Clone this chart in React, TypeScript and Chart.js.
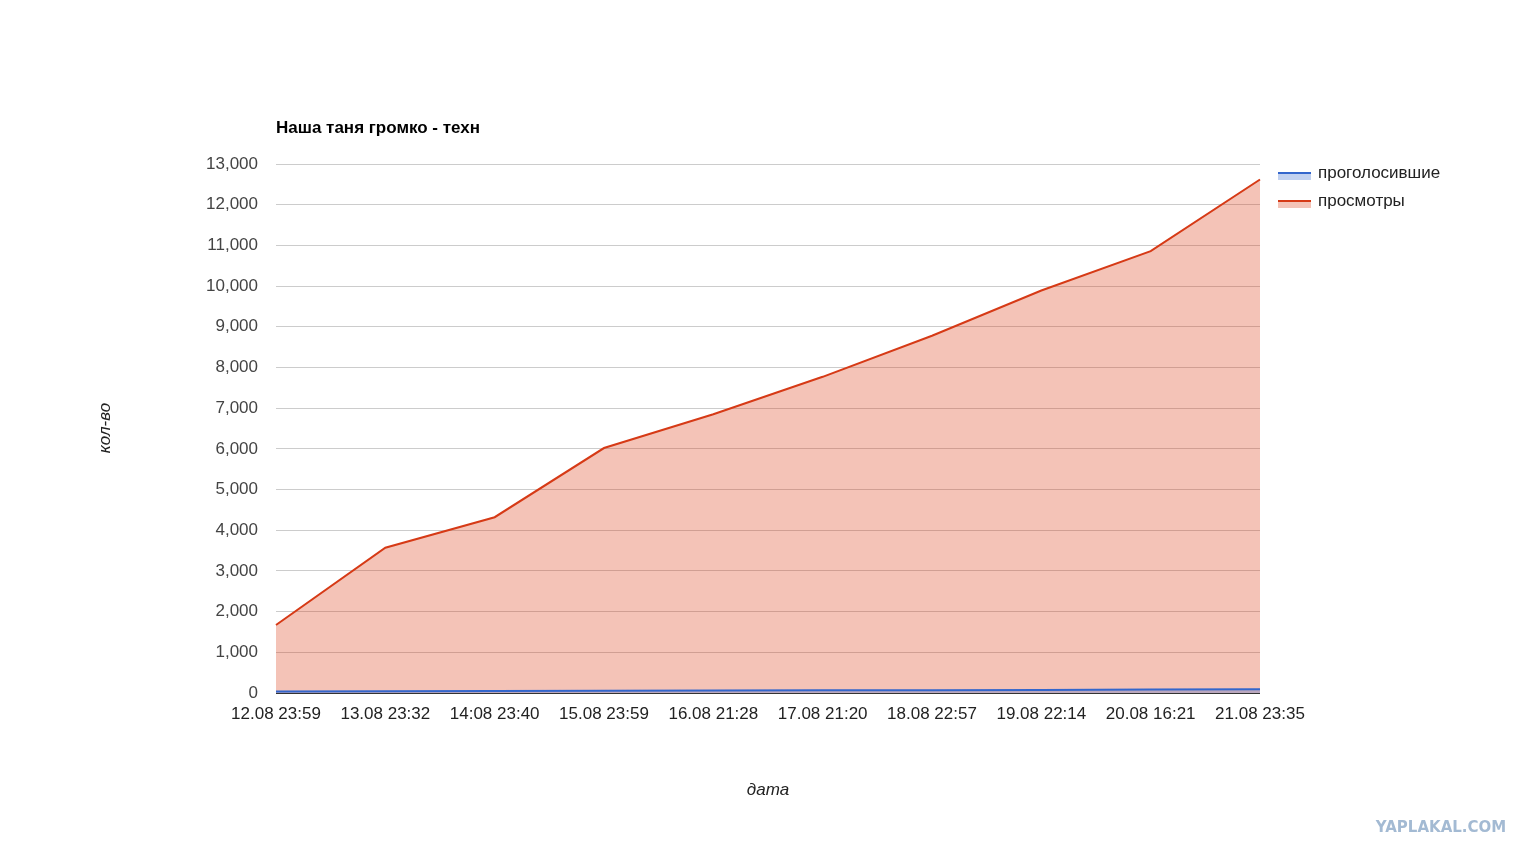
import React, { useEffect, useRef } from "react";
import { Chart, registerables } from "chart.js";

Chart.register(...registerables);

const categories = [
  "12.08 23:59",
  "13.08 23:32",
  "14:08 23:40",
  "15.08 23:59",
  "16.08 21:28",
  "17.08 21:20",
  "18.08 22:57",
  "19.08 22:14",
  "20.08 16:21",
  "21.08 23:35",
];
const voters = [35, 45, 50, 55, 60, 65, 70, 75, 85, 95];
const views = [1670, 3570, 4320, 6020, 6850, 7770, 8780, 9890, 10860, 12620];
const seriesNames = ["проголосившие", "просмотры"];
const chartTitle = "Наша таня громко - техн";
const yTitle = "кол-во";
const xTitle = "дата";
const watermark = "YAPLAKAL.COM";

const FONT = "Arial, 'Liberation Sans', sans-serif";
const BLUE = "#3366cc";
const RED = "#d63a16";
const BLUE_FILL = "rgba(51,102,204,0.3)";
const RED_FILL = "rgba(220,57,18,0.3)";

const overlayPlugin = {
  id: "overlay",
  afterDraw(chart: any) {
    const ctx = chart.ctx as CanvasRenderingContext2D;
    const area = chart.chartArea;
    ctx.save();
    // title
    ctx.fillStyle = "#000";
    ctx.font = `bold 17px ${FONT}`;
    ctx.textAlign = "left";
    ctx.textBaseline = "middle";
    ctx.fillText(chartTitle, area.left, 128);
    // axis titles
    ctx.fillStyle = "#222";
    ctx.font = `italic 17px ${FONT}`;
    ctx.textAlign = "center";
    ctx.fillText(xTitle, 768, 790);
    ctx.save();
    ctx.translate(105, 428);
    ctx.rotate(-Math.PI / 2);
    ctx.fillText(yTitle, 0, 0);
    ctx.restore();
    // legend
    const lineCols = [BLUE, RED];
    const fillCols = [BLUE_FILL, RED_FILL];
    seriesNames.forEach((name, i) => {
      const y = 172 + i * 28;
      ctx.fillStyle = fillCols[i];
      ctx.fillRect(1278, y, 33, 8);
      ctx.fillStyle = lineCols[i];
      ctx.fillRect(1278, y, 33, 2);
      ctx.fillStyle = "#222";
      ctx.font = `17px ${FONT}`;
      ctx.textAlign = "left";
      ctx.textBaseline = "middle";
      ctx.fillText(name, 1318, y + 1);
    });
    // watermark
    ctx.fillStyle = "#a3bad3";
    ctx.font = `bold 15px 'DejaVu Sans', ${FONT}`;
    ctx.textAlign = "center";
    ctx.fillText(watermark, 1441, 828);
    ctx.restore();
  },
};

export default function App() {
  const ref = useRef<HTMLCanvasElement | null>(null);
  useEffect(() => {
    if (!ref.current) return;
    const chart = new Chart(ref.current, {
      type: "line",
      data: {
        labels: categories,
        datasets: [
          {
            label: seriesNames[0],
            data: voters,
            borderColor: BLUE,
            backgroundColor: BLUE_FILL,
            fill: "origin",
            borderWidth: 2,
            pointRadius: 0,
            tension: 0,
            order: 0,
          },
          {
            label: seriesNames[1],
            data: views,
            borderColor: RED,
            backgroundColor: RED_FILL,
            fill: "origin",
            borderWidth: 2,
            pointRadius: 0,
            tension: 0,
            order: 1,
          },
        ],
      },
      options: {
        animation: false,
        responsive: false,
        layout: { padding: { left: 0, right: 275, top: 164, bottom: 0 } },
        plugins: {
          legend: { display: false },
          title: { display: false },
          tooltip: { enabled: false },
        },
        scales: {
          x: {
            type: "category",
            offset: false,
            grid: { display: false, drawTicks: false },
            border: { display: false },
            ticks: {
              autoSkip: false,
              maxRotation: 0,
              padding: 11,
              color: "#222",
              font: { family: FONT, size: 17 },
            },
            afterFit(scale: any) {
              scale.height = 164;
            },
          },
          y: {
            min: 0,
            max: 13000,
            grid: {
              drawTicks: false,
              color: (c: any) => {
                const v = c.tick ? c.tick.value : 0;
                if (v === 0) return "#333333";
                return v % 1000 === 0 ? "#cccccc" : "#e8e8e8";
              },
              lineWidth: 1,
            },
            border: { display: false },
            ticks: {
              stepSize: 500,
              padding: 18,
              color: "#444",
              font: { family: FONT, size: 17 },
              callback: (v: any) =>
                Number(v) % 1000 === 0 ? Number(v).toLocaleString("en-US") : "",
            },
            afterFit(scale: any) {
              scale.width = 276;
            },
          },
        },
      },
      plugins: [overlayPlugin],
    });
    return () => chart.destroy();
  }, []);
  return (
    <div style={{ position: "fixed", left: 0, top: 0, width: 1535, height: 857, background: "#fff" }}>
      <canvas ref={ref} width={1535} height={857} style={{ width: 1535, height: 857 }} />
    </div>
  );
}
